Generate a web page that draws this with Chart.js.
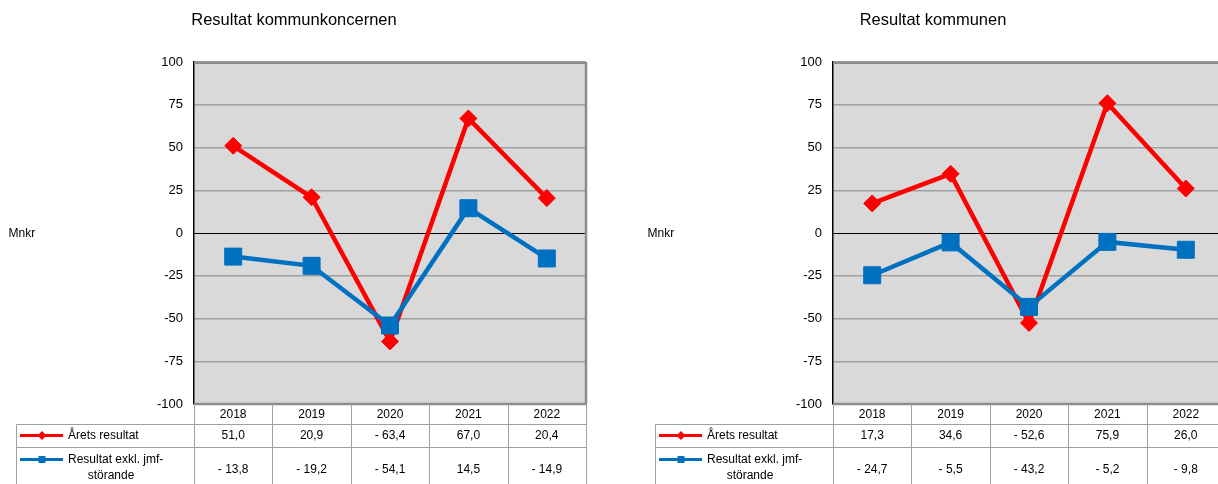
<!DOCTYPE html>
<html><head><meta charset="utf-8">
<script src="https://cdn.jsdelivr.net/npm/chart.js@4/dist/chart.umd.min.js"></script>
<style>
html,body{margin:0;padding:0;background:#fff;overflow:hidden;width:1218px;height:484px;position:relative;}
canvas{position:absolute;top:0;}
</style></head><body>
<canvas id="c1" width="640" height="484" style="left:0px;width:640px;height:484px"></canvas>
<canvas id="c2" width="640" height="484" style="left:639px;width:640px;height:484px"></canvas>
<script>
// ---- data ----
const years = ['2018', '2019', '2020', '2021', '2022'];
const seriesNames = ['Årets resultat', 'Resultat exkl. jmf-störande'];
const seriesLegendLines = [['Årets resultat'], ['Resultat exkl. jmf-', 'störande']];
const unitLabel = 'Mnkr';
const yMin = -100, yMax = 100, yStep = 25;

const titleKoncern = 'Resultat kommunkoncernen';
const aretsKoncern = [51.0, 20.9, -63.4, 67.0, 20.4];
const exklKoncern = [-13.8, -19.2, -54.1, 14.5, -14.9];

const titleKommun = 'Resultat kommunen';
const aretsKommun = [17.3, 34.6, -52.6, 75.9, 26.0];
const exklKommun = [-24.7, -5.5, -43.2, -5.2, -9.8];

// ---- styles ----
const FONT = "'Liberation Sans', Arial, Helvetica, sans-serif";
const RED = '#ff0000', BLUE = '#0070c0';
Chart.defaults.font.family = FONT;

function fmt(v) {
  return (v < 0 ? '- ' : '') + Math.abs(v).toFixed(1).replace('.', ',');
}

function line(ctx, x1, y1, x2, y2) {
  ctx.beginPath(); ctx.moveTo(x1, y1); ctx.lineTo(x2, y2); ctx.stroke();
}

function makeChart(id, title, arets, exkl) {
  const plug = {
    id: 'decor',
    beforeDraw(chart) {
      const { ctx, chartArea: a } = chart;
      ctx.save();
      ctx.fillStyle = '#d9d9d9';
      ctx.fillRect(a.left, a.top, a.right - a.left, a.bottom - a.top);
      ctx.restore();
    },
    beforeDatasetsDraw(chart) {
      const { ctx, chartArea: a } = chart;
      ctx.save();
      ctx.strokeStyle = '#8c8c8c';
      ctx.lineWidth = 2.5;
      line(ctx, a.left, a.bottom, a.right + 1, a.bottom);
      line(ctx, a.right, a.top, a.right, a.bottom);
      ctx.lineWidth = 2;
      line(ctx, a.left, a.top + 1, a.right, a.top + 1);
      ctx.restore();
    },
    afterDraw(chart) {
      const { ctx, chartArea: a } = chart;
      const xs = chart.scales.x;
      ctx.save();
      // title
      ctx.fillStyle = '#000';
      ctx.textAlign = 'center';
      ctx.textBaseline = 'middle';
      ctx.font = '16.5px ' + FONT;
      ctx.fillText(title, 294, 20);
      // unit
      ctx.textAlign = 'left';
      ctx.font = '12px ' + FONT;
      ctx.fillText(unitLabel, 8.5, 234);

      // table grid
      const L = a.left, R = a.right, w = (R - L) / years.length;
      const legL = 16.5, yTop = a.bottom, yR1 = 424.5, yR2 = 447.5, yB = 490;
      ctx.strokeStyle = '#a0a0a0';
      ctx.lineWidth = 1;
      line(ctx, legL, yR1, R, yR1);
      line(ctx, legL, yR2, R, yR2);
      line(ctx, legL, yR1, legL, yB);
      for (let i = 0; i <= years.length; i++) {
        const x = Math.round(L + i * w) + 0.5;
        line(ctx, x, yTop, x, yB);
      }
      // table text
      ctx.fillStyle = '#000';
      ctx.textAlign = 'center';
      ctx.font = '12px ' + FONT;
      years.forEach((y, i) => {
        const x = xs.getPixelForValue(i);
        ctx.fillText(y, x, 415);
        ctx.fillText(fmt(arets[i]), x, 436);
        ctx.fillText(fmt(exkl[i]), x, 470);
      });
      // legend keys
      ctx.lineWidth = 3;
      ctx.strokeStyle = RED;
      line(ctx, 20, 435.5, 63, 435.5);
      ctx.fillStyle = RED;
      ctx.beginPath();
      ctx.moveTo(42, 431); ctx.lineTo(46.5, 435.5); ctx.lineTo(42, 440); ctx.lineTo(37.5, 435.5);
      ctx.closePath(); ctx.fill();
      ctx.strokeStyle = BLUE;
      line(ctx, 20, 459.5, 63, 459.5);
      ctx.fillStyle = BLUE;
      ctx.fillRect(38.5, 456, 7, 7);
      // legend text
      ctx.fillStyle = '#000';
      ctx.textAlign = 'left';
      ctx.fillText(seriesLegendLines[0][0], 68, 436);
      ctx.fillText(seriesLegendLines[1][0], 68, 460);
      ctx.textAlign = 'center';
      ctx.fillText(seriesLegendLines[1][1], 111, 476);
      ctx.restore();
    }
  };

  return new Chart(document.getElementById(id), {
    type: 'line',
    data: {
      labels: years,
      datasets: [
        {
          label: seriesNames[0], data: arets, order: 2,
          borderColor: RED, backgroundColor: RED, borderWidth: 4.5,
          pointStyle: 'rectRot', pointRadius: 8.5, pointBorderWidth: 1,
          pointBackgroundColor: RED, pointBorderColor: RED, tension: 0
        },
        {
          label: seriesNames[1], data: exkl, order: 1,
          borderColor: BLUE, backgroundColor: BLUE, borderWidth: 4.5,
          pointStyle: 'rect', pointRadius: 12, pointBorderWidth: 1,
          pointBackgroundColor: BLUE, pointBorderColor: BLUE, tension: 0
        }
      ]
    },
    options: {
      responsive: false,
      animation: false,
      layout: { padding: { left: 0, top: 62, right: 54, bottom: 80 } },
      plugins: { legend: { display: false }, tooltip: { enabled: false }, title: { display: false } },
      scales: {
        x: { type: 'category', display: false, offset: true },
        y: {
          min: yMin, max: yMax,
          afterFit(s) { s.width = 194; },
          ticks: { stepSize: yStep, color: '#000', font: { size: 13 }, padding: 11 },
          grid: {
            drawTicks: false,
            color: c => (c.tick && c.tick.value === 0) ? '#000' : '#a0a0a0',
            lineWidth: c => (c.tick && c.tick.value === 0) ? 1 : 1.5
          },
          border: { color: '#000', width: 1.5 }
        }
      }
    },
    plugins: [plug]
  });
}

makeChart('c1', titleKoncern, aretsKoncern, exklKoncern);
makeChart('c2', titleKommun, aretsKommun, exklKommun);
</script>
</body></html>
